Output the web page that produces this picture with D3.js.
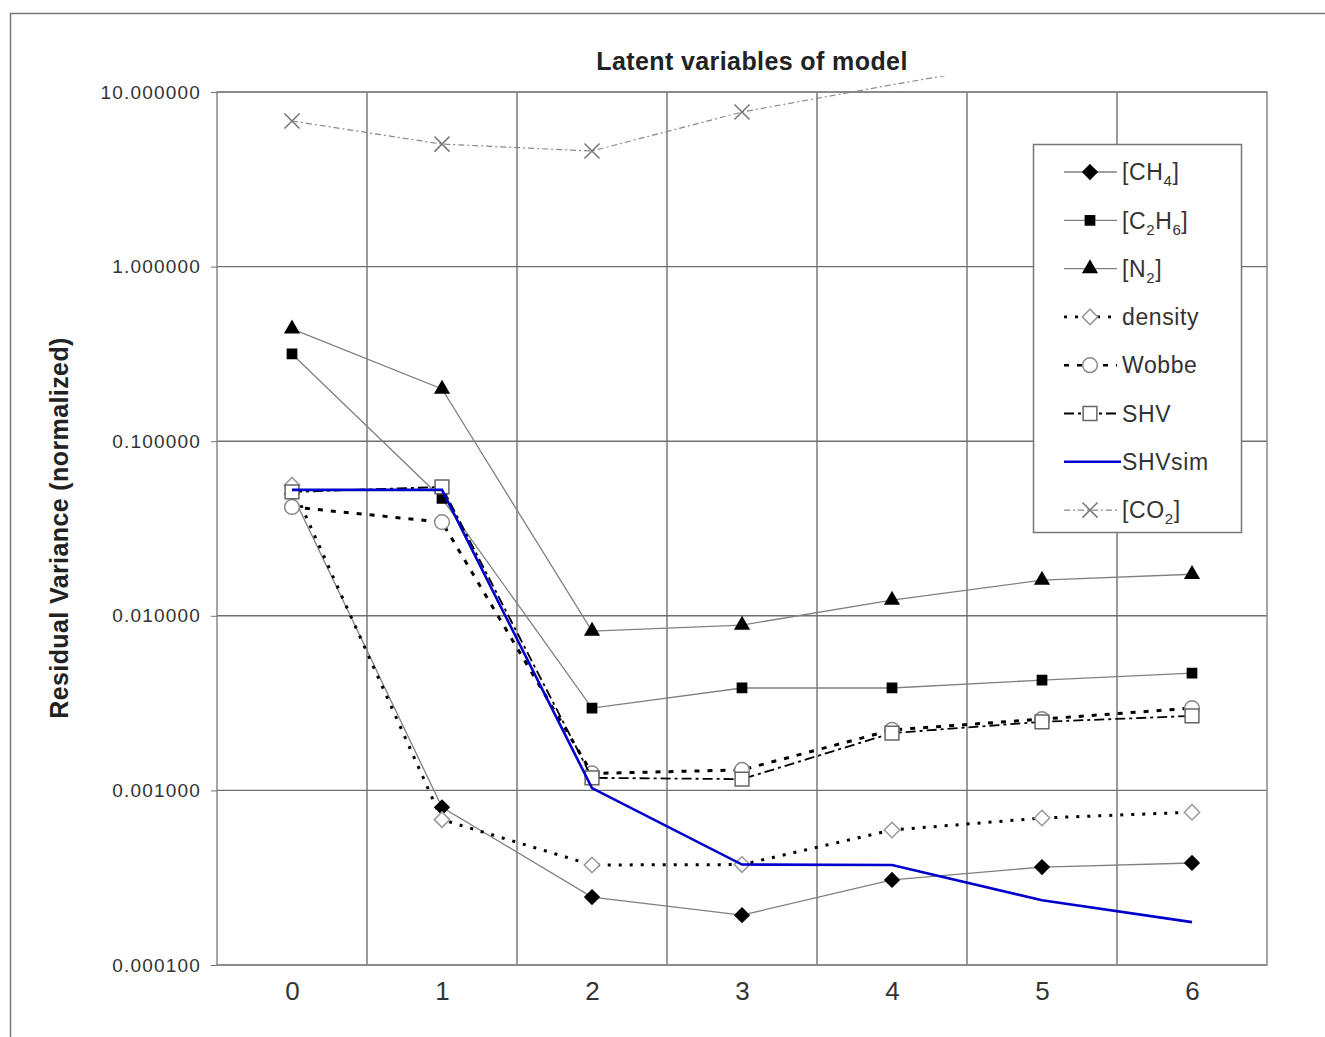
<!DOCTYPE html>
<html>
  <head>
    <title>Latent variables of model</title>
    <script src="https://d3js.org/d3.v7.min.js"></script>
    <style>
      body { margin: 0; background: #fff; }
      svg { font-family: "Liberation Sans", Arial, sans-serif; }
      .axis .domain { display: none; }
      .axis .tick line { stroke: #707070; }
      .y.axis .tick text { font-size: 19px; letter-spacing: 1.2px; fill: #333; }
      .x.axis .tick text { font-size: 26px; fill: #333; }
      .grid line { stroke: #707070; stroke-width: 1.4px; }
      .title { font-size: 25px; letter-spacing: 0.4px; font-weight: bold; fill: #222; text-anchor: middle; }
      .axis__label { font-size: 25px; letter-spacing: 0.4px; font-weight: bold; fill: #222; text-anchor: middle; }
      .legend text { font-size: 23px; letter-spacing: 0.6px; fill: #333; }
    </style>
  </head>
  <body>
    <svg width="1325" height="1037"></svg>
    <script>
      // components 0..6, values
      const components = [0, 1, 2, 3, 4, 5, 6];
      const yTicks = [0.0001, 0.001, 0.01, 0.1, 1, 10];

      const ch4    = [0.050, 0.00080, 0.000245, 0.000193, 0.000307, 0.000364, 0.000384];
      const c2h6   = [0.316, 0.047, 0.00296, 0.00386, 0.00386, 0.00428, 0.0047];
      const n2     = [0.44, 0.199, 0.00818, 0.00885, 0.0123, 0.016, 0.0173];
      const density = [0.056, 0.00068, 0.000374, 0.000376, 0.000593, 0.000695, 0.00075];
      const wobbe  = [0.042, 0.0344, 0.00125, 0.00131, 0.00222, 0.00256, 0.00296];
      const shv    = [0.0512, 0.0547, 0.00118, 0.00116, 0.00213, 0.00247, 0.00267];
      const shvSim = [0.0526, 0.0526, 0.00103, 0.000376, 0.000374, 0.000235, 0.000176];
      const co2    = [6.82, 5.03, 4.59, 7.68, 11.0, 15.5, 18.0];

      const series = [
        {name: "CH4", sub: ["[CH", "4", "]"], values: ch4, stroke: "#808080", width: 1.3, dash: null, marker: "diamond", mFill: "#000", mStroke: "#000"},
        {name: "C2H6", sub: ["[C", "2", "H", "6", "]"], values: c2h6, stroke: "#808080", width: 1.3, dash: null, marker: "square", mFill: "#000", mStroke: "#000"},
        {name: "N2", sub: ["[N", "2", "]"], values: n2, stroke: "#808080", width: 1.3, dash: null, marker: "triangle", mFill: "#000", mStroke: "#000"},
        {name: "density", sub: ["density"], values: density, stroke: "#000", width: 3, dash: "3,8", marker: "diamondOpen", mFill: "#fff", mStroke: "#999"},
        {name: "Wobbe", sub: ["Wobbe"], values: wobbe, stroke: "#000", width: 3, dash: "5,8", marker: "circle", mFill: "#fff", mStroke: "#888"},
        {name: "SHV", sub: ["SHV"], values: shv, stroke: "#000", width: 1.8, dash: "10,4,3,4", marker: "squareOpen", mFill: "#fff", mStroke: "#666"},
        {name: "SHVsim", sub: ["SHVsim"], values: shvSim, stroke: "#0000cc", width: 2.6, dash: null, marker: null},
        {name: "CO2", sub: ["[CO", "2", "]"], values: co2, stroke: "#888", width: 1.2, dash: "6,3,2,3", marker: "cross", mFill: "none", mStroke: "#777"}
      ];

      const margin = {left: 217, top: 92, right: 1267, bottom: 965};

      const svg = d3.select("svg");

      svg.append("rect")
        .attr("x", 10.5).attr("y", 13.5)
        .attr("width", 1400).attr("height", 1100)
        .attr("fill", "none").attr("stroke", "#777").attr("stroke-width", 1.5);

      const xBand = d3.scaleBand()
        .domain(components)
        .range([margin.left, margin.right]);
      const xScale = d => xBand(d) + xBand.bandwidth() / 2;
      const yScale = d3.scaleLog()
        .domain([0.0001, 10])
        .range([margin.bottom, margin.top]);

      svg.append("defs").append("clipPath").attr("id", "plotClip")
        .append("rect")
          .attr("x", margin.left).attr("y", margin.top)
          .attr("width", margin.right - margin.left)
          .attr("height", margin.bottom - margin.top);
      svg.select("defs").append("clipPath").attr("id", "lineClip")
        .append("rect")
          .attr("x", margin.left).attr("y", 76)
          .attr("width", 735)
          .attr("height", margin.bottom - 76);

      // grid
      const grid = svg.append("g").attr("class", "grid");
      grid.selectAll(".h").data(yTicks).enter().append("line")
        .attr("x1", margin.left).attr("x2", margin.right)
        .attr("y1", d => yScale(d)).attr("y2", d => yScale(d));
      grid.selectAll(".v").data(components.slice(1)).enter().append("line")
        .attr("x1", d => xBand(d)).attr("x2", d => xBand(d))
        .attr("y1", margin.top).attr("y2", margin.bottom);
      svg.append("rect")
        .attr("x", margin.left).attr("y", margin.top)
        .attr("width", margin.right - margin.left)
        .attr("height", margin.bottom - margin.top)
        .attr("fill", "none").attr("stroke", "#888").attr("stroke-width", 1.5);

      // axes
      const yAxis = d3.axisLeft(yScale)
        .tickValues(yTicks)
        .tickSize(6)
        .tickPadding(10)
        .tickFormat(d3.format(".6f"));
      svg.append("g")
        .attr("class", "y axis")
        .attr("transform", `translate(${margin.left}, 0)`)
        .call(yAxis);

      const xAxis = d3.axisBottom(d3.scalePoint().domain(components).range([xScale(0), xScale(6)]))
        .tickSize(0)
        .tickPadding(17);
      svg.append("g")
        .attr("class", "x axis")
        .attr("transform", `translate(0, ${margin.bottom})`)
        .call(xAxis);

      svg.append("text")
        .attr("class", "title")
        .attr("x", 752).attr("y", 70)
        .text("Latent variables of model");

      svg.append("text")
        .attr("class", "axis__label")
        .attr("transform", "rotate(-90)")
        .attr("x", -528).attr("y", 68)
        .text("Residual Variance (normalized)");

      const rhombus = {
        draw(ctx, size) {
          const r = Math.sqrt(size / 2);
          ctx.moveTo(0, -r); ctx.lineTo(r, 0); ctx.lineTo(0, r); ctx.lineTo(-r, 0); ctx.closePath();
        }
      };
      const symbolFor = {
        diamond: d3.symbol().type(rhombus).size(100),
        diamondOpen: d3.symbol().type(rhombus).size(120),
        square: d3.symbol().type(d3.symbolSquare).size(85),
        squareOpen: d3.symbol().type(d3.symbolSquare).size(190),
        triangle: d3.symbol().type(d3.symbolTriangle).size(80),
        circle: d3.symbol().type(d3.symbolCircle).size(170),
        cross: d3.symbol().type(d3.symbolX).size(150)
      };

      const line = d3.line()
        .x((d, i) => xScale(components[i]))
        .y(d => yScale(d));

      // draw from back to front
      const drawOrder = [7, 2, 1, 0, 3, 4, 5, 6];
      drawOrder.forEach(k => {
        const s = series[k];
        svg.append("path")
          .attr("d", line(s.values))
          .attr("fill", "none")
          .attr("stroke", s.stroke)
          .attr("stroke-width", s.width)
          .attr("stroke-dasharray", s.dash)
          .attr("clip-path", k === 7 ? "url(#lineClip)" : null);
        if (s.marker) {
          svg.append("g").attr("clip-path", "url(#plotClip)")
            .selectAll("path").data(s.values).enter().append("path")
              .attr("transform", (d, i) => `translate(${xScale(components[i])}, ${yScale(d)})`)
              .attr("d", symbolFor[s.marker])
              .attr("fill", s.mFill)
              .attr("stroke", s.mStroke)
              .attr("stroke-width", 1.5);
        }
      });

      // legend
      const legend = svg.append("g").attr("class", "legend")
        .attr("transform", "translate(1033, 144)");
      legend.append("rect")
        .attr("x", 0.5).attr("y", 0.5)
        .attr("width", 208).attr("height", 388)
        .attr("fill", "#fff").attr("stroke", "#777").attr("stroke-width", 1.5);

      const entry = legend.selectAll(".entry").data(series).enter().append("g")
        .attr("class", "entry")
        .attr("transform", (d, i) => `translate(0, ${28 + i * 48.3})`);
      entry.append("line")
        .attr("x1", 31).attr("x2", d => d.marker ? 84 : 88)
        .attr("stroke", d => d.stroke)
        .attr("stroke-width", d => Math.min(d.width, 2.6))
        .attr("stroke-dasharray", d => d.dash);
      entry.filter(d => d.marker).append("path")
        .attr("transform", "translate(57, 0)")
        .attr("d", d => symbolFor[d.marker]())
        .attr("fill", d => d.mFill === "none" ? "none" : d.mFill)
        .attr("stroke", d => d.mStroke)
        .attr("stroke-width", 1.5);
      const label = entry.append("text")
        .attr("x", 89)
        .attr("dy", "0.36em");
      label.each(function(d) {
        const t = d3.select(this);
        d.sub.forEach((part, j) => {
          const isSub = j % 2 === 1;
          t.append("tspan")
            .attr("font-size", isSub ? "15px" : null)
            .attr("dy", isSub ? "6" : (j > 0 ? "-6" : null))
            .text(part);
        });
      });
    </script>
  </body>
</html>
